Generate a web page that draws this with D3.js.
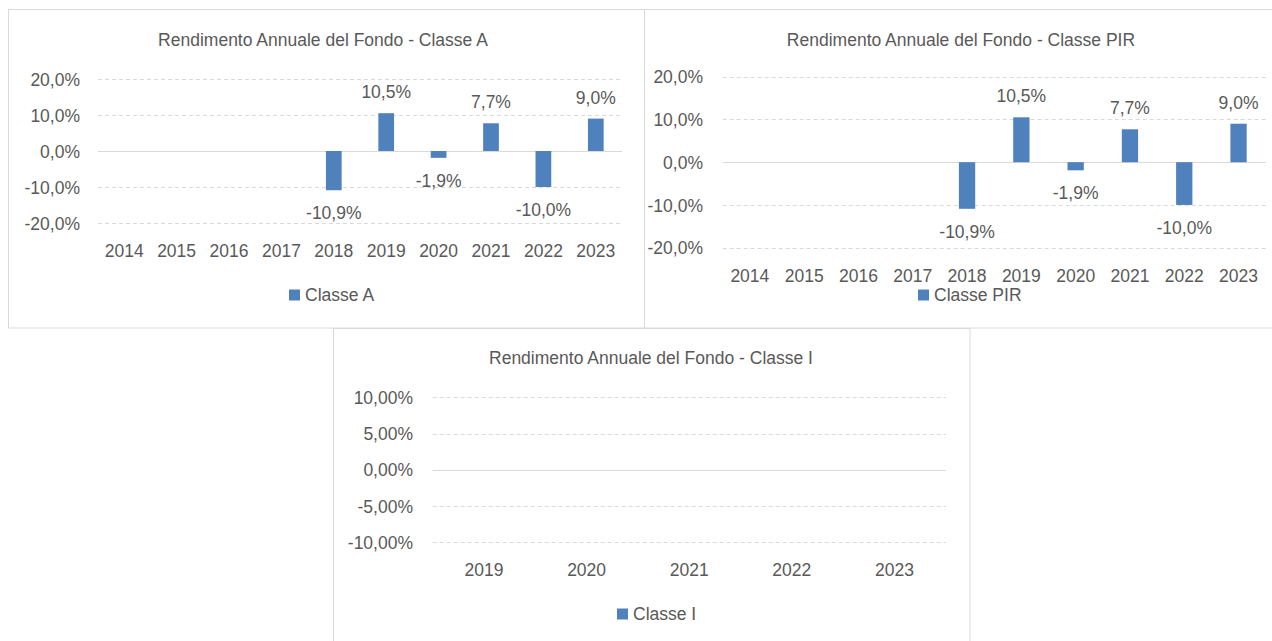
<!DOCTYPE html>
<html>
<head>
<meta charset="utf-8">
<script src="https://cdn.jsdelivr.net/npm/d3@7"></script>
<style>
  html, body { margin: 0; padding: 0; background: #ffffff; }
  svg { display: block; }
  text { font-family: "Liberation Sans", Arial, sans-serif; fill: #595959; }
</style>
</head>
<body>
<svg id="chart" width="1272" height="641"></svg>
<script>
// ---- Data ----
const titleA = "Rendimento Annuale del Fondo - Classe A";
const titlePIR = "Rendimento Annuale del Fondo - Classe PIR";
const titleI = "Rendimento Annuale del Fondo - Classe I";

const seriesA = "Classe A";
const seriesPIR = "Classe PIR";
const seriesI = "Classe I";

const yearsA = ["2014","2015","2016","2017","2018","2019","2020","2021","2022","2023"];
const valuesA = [null, null, null, null, -0.109, 0.105, -0.019, 0.077, -0.100, 0.090];

const yearsPIR = ["2014","2015","2016","2017","2018","2019","2020","2021","2022","2023"];
const valuesPIR = [null, null, null, null, -0.109, 0.105, -0.019, 0.077, -0.100, 0.090];

const yearsI = ["2019","2020","2021","2022","2023"];
const valuesI = [null, null, null, null, null];

const ticksA = [-0.2, -0.1, 0, 0.1, 0.2];
const ticksPIR = [-0.2, -0.1, 0, 0.1, 0.2];
const ticksI = [-0.1, -0.05, 0, 0.05, 0.1];

// ---- Setup ----
const it = d3.formatLocale({decimal: ",", thousands: ".", grouping: [3], currency: ["", "€"], minus: "-"});
const fmt1 = it.format(".1%");
const fmt2 = it.format(".2%");

const svg = d3.select("#chart");
const BORDER = "#d9d9d9";
const BAR = "#4f81bd";
const FS = 17.5;

// Panel frames
svg.append("rect").attr("x", 8.5).attr("y", 9.5).attr("width", 636).attr("height", 318.5)
  .attr("fill", "#fff").attr("stroke", BORDER);
svg.append("rect").attr("x", 644.5).attr("y", 9.5).attr("width", 640).attr("height", 318.5)
  .attr("fill", "#fff").attr("stroke", BORDER);
svg.append("rect").attr("x", 333.5).attr("y", 328.5).attr("width", 636.5).attr("height", 330)
  .attr("fill", "#fff").attr("stroke", BORDER);

function drawPanel(cfg) {
  const g = svg.append("g");
  const x = d3.scaleBand().domain(cfg.cats).range([cfg.x0, cfg.x1]).paddingInner(0.7).paddingOuter(0.35);
  const y = d3.scaleLinear().domain([cfg.ticks[0], cfg.ticks[cfg.ticks.length - 1]]).range([cfg.yb, cfg.yt]);

  // gridlines
  g.append("g").selectAll("line").data(cfg.ticks).join("line")
    .attr("x1", cfg.x0).attr("x2", cfg.x1)
    .attr("y1", d => Math.round(y(d)) + 0.5).attr("y2", d => Math.round(y(d)) + 0.5)
    .attr("stroke", BORDER).attr("stroke-width", 1)
    .attr("stroke-dasharray", d => d === 0 ? null : "4,3");

  // y axis labels
  const ya = g.append("g").attr("transform", `translate(${cfg.ylx},0)`)
    .call(d3.axisLeft(y).tickValues(cfg.ticks).tickFormat(cfg.fmt).tickSize(0).tickPadding(0));
  ya.select(".domain").remove();
  ya.selectAll("text").attr("font-size", FS).attr("font-family", null).attr("fill", "#595959")
    .attr("dy", "0.35em");

  // x axis labels
  const xa = g.append("g").attr("transform", `translate(0,${cfg.xly})`)
    .call(d3.axisBottom(x).tickSize(0).tickPadding(0));
  xa.select(".domain").remove();
  xa.selectAll("text").attr("font-size", FS).attr("font-family", null).attr("fill", "#595959")
    .attr("dy", "0.35em");

  const data = cfg.cats.map((c, i) => ({c, v: cfg.vals[i]})).filter(d => d.v !== null);

  // bars
  g.append("g").selectAll("rect").data(data).join("rect")
    .attr("x", d => x(d.c))
    .attr("width", x.bandwidth())
    .attr("y", d => y(Math.max(0, d.v)))
    .attr("height", d => Math.abs(y(d.v) - y(0)))
    .attr("fill", BAR);

  // data labels
  g.append("g").selectAll("text").data(data).join("text")
    .attr("x", d => x(d.c) + x.bandwidth() / 2)
    .attr("y", d => d.v >= 0 ? y(d.v) - 21 : y(d.v) + 23)
    .attr("dy", "0.35em")
    .attr("text-anchor", "middle")
    .attr("font-size", FS)
    .text(d => cfg.fmt(d.v));

  // title
  g.append("text").attr("x", cfg.tx).attr("y", cfg.ty).attr("dy", "0.35em")
    .attr("text-anchor", "middle").attr("font-size", FS).text(cfg.title);

  // legend
  g.append("rect").attr("x", cfg.lx).attr("y", cfg.ly - 5.5).attr("width", 11).attr("height", 11).attr("fill", BAR);
  g.append("text").attr("x", cfg.lx + 16).attr("y", cfg.ly).attr("dy", "0.35em")
    .attr("font-size", FS).text(cfg.series);
}

drawPanel({cats: yearsA, vals: valuesA, ticks: ticksA, fmt: fmt1, title: titleA, series: seriesA,
  x0: 98, x1: 622, yt: 79, yb: 223, ylx: 80, xly: 250.5, tx: 323, ty: 40, lx: 289, ly: 295});

drawPanel({cats: yearsPIR, vals: valuesPIR, ticks: ticksPIR, fmt: fmt1, title: titlePIR, series: seriesPIR,
  x0: 722.7, x1: 1265.7, yt: 76.7, yb: 247.7, ylx: 703, xly: 276, tx: 961, ty: 40, lx: 918, ly: 295});

drawPanel({cats: yearsI, vals: valuesI, ticks: ticksI, fmt: fmt2, title: titleI, series: seriesI,
  x0: 432.7, x1: 945.7, yt: 397.3, yb: 542.3, ylx: 413, xly: 570, tx: 651, ty: 358, lx: 617, ly: 614});
</script>
</body>
</html>
